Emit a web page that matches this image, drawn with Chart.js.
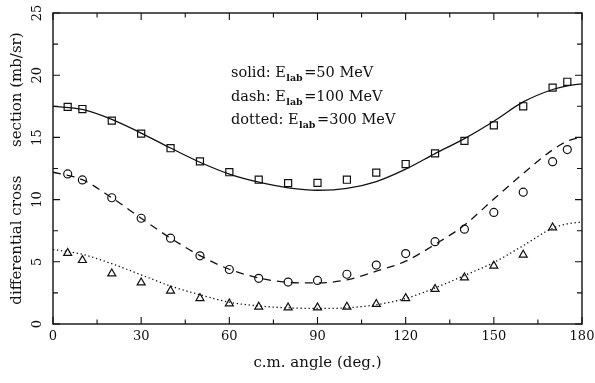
<!DOCTYPE html>
<html>
<head>
<meta charset="utf-8">
<script src="https://cdn.jsdelivr.net/npm/chart.js@4.4.1/dist/chart.umd.min.js"></script>
<style>
  html, body { margin: 0; padding: 0; background: #fff; }
  #wrap { position: relative; width: 595px; height: 383px; }
</style>
</head>
<body>
<div id="wrap"><canvas id="c" width="595" height="383"></canvas></div>
<script>
// ---- data ----
const curveAngles = [0, 10, 20, 30, 40, 50, 60, 70, 80, 90, 100, 110, 120, 130, 140, 150, 160, 170, 175, 180];
const curve50  = [17.5, 17.25, 16.45, 15.35, 14.15, 13.0, 12.05, 11.4, 10.95, 10.75, 10.9, 11.45, 12.45, 13.7, 14.9, 16.3, 17.85, 18.85, 19.15, 19.3];
const curve100 = [12.2, 11.6, 10.15, 8.5, 6.9, 5.5, 4.4, 3.7, 3.35, 3.3, 3.55, 4.25, 5.05, 6.4, 7.95, 10.05, 12.1, 14.0, 14.7, 15.05];
const curve300 = [6.0, 5.6, 4.85, 3.95, 3.05, 2.35, 1.75, 1.45, 1.3, 1.25, 1.3, 1.55, 2.05, 2.9, 3.9, 4.95, 6.3, 7.7, 8.05, 8.2];

const expAngles = [5, 10, 20, 30, 40, 50, 60, 70, 80, 90, 100, 110, 120, 130, 140, 150, 160, 170, 175];
const exp50  = [17.45, 17.28, 16.35, 15.3, 14.13, 13.07, 12.2, 11.6, 11.32, 11.34, 11.6, 12.17, 12.86, 13.72, 14.72, 15.97, 17.5, 19.0, 19.47];
const exp100 = [12.06, 11.58, 10.15, 8.5, 6.9, 5.48, 4.38, 3.67, 3.37, 3.5, 4.0, 4.74, 5.66, 6.62, 7.62, 8.97, 10.6, 13.05, 14.02];
const expAngles300 = [5, 10, 20, 30, 40, 50, 60, 70, 80, 90, 100, 110, 120, 130, 140, 150, 160, 170];
const exp300 = [5.7, 5.13, 4.05, 3.33, 2.66, 2.07, 1.64, 1.38, 1.32, 1.32, 1.38, 1.6, 2.07, 2.8, 3.73, 4.67, 5.56, 7.75];

const xTickValues = [0, 30, 60, 90, 120, 150, 180];
const yTickValues = [0, 5, 10, 15, 20, 25];
const legendRows = [
  { prefix: 'solid: ',  energy: '=50 MeV' },
  { prefix: 'dash: ',   energy: '=100 MeV' },
  { prefix: 'dotted: ', energy: '=300 MeV' }
];
const xTitle = 'c.m. angle (deg.)';
const yTitle = 'differential cross      section (mb/sr)';

// ---- build ----
const pts = (xs, ys) => xs.map((v, i) => ({ x: v, y: ys[i] }));
const FONT = '"DejaVu Serif", serif';
Chart.defaults.font.family = FONT;
Chart.defaults.color = '#111';

const lineDs = (data, dash) => ({
  data, showLine: true, pointRadius: 0, borderColor: '#111', borderWidth: 1.3,
  borderDash: dash, cubicInterpolationMode: 'monotone', fill: false
});
const markDs = (data, style, r) => ({
  data, showLine: false, pointStyle: style, pointRadius: r, pointHoverRadius: r,
  borderColor: '#111', backgroundColor: 'rgba(0,0,0,0)', pointBorderWidth: 1.2
});

const framePlugin = {
  id: 'frame',
  afterDatasetsDraw(chart) {
    const { ctx, chartArea: { left, right, top, bottom }, scales: { x, y } } = chart;
    ctx.save();
    ctx.strokeStyle = '#111';
    ctx.lineWidth = 1.4;
    ctx.strokeRect(left, top, right - left, bottom - top);
    ctx.lineWidth = 1.1;
    ctx.beginPath();
    x.ticks.forEach(t => {
      const px = x.getPixelForValue(t.value);
      const len = xTickValues.includes(t.value) ? 7 : 4.5;
      ctx.moveTo(px, bottom); ctx.lineTo(px, bottom - len);
      ctx.moveTo(px, top); ctx.lineTo(px, top + len);
    });
    y.ticks.forEach(t => {
      const py = y.getPixelForValue(t.value);
      const len = yTickValues.includes(t.value) ? 7 : 5;
      ctx.moveTo(left, py); ctx.lineTo(left + len, py);
      ctx.moveTo(right, py); ctx.lineTo(right - len, py);
    });
    ctx.stroke();
    ctx.restore();
  },
  afterDraw(chart) {
    const { ctx } = chart;
    ctx.save();
    ctx.fillStyle = '#111';
    ctx.textBaseline = 'alphabetic';
    const baselines = [77, 101, 124];
    legendRows.forEach((row, i) => {
      let x = 231;
      const b = baselines[i];
      ctx.font = '14.5px ' + FONT;
      ctx.fillText(row.prefix, x, b);
      x += ctx.measureText(row.prefix).width;
      ctx.fillText('E', x, b);
      x += ctx.measureText('E').width + 0.5;
      ctx.font = 'bold 9.5px ' + FONT;
      ctx.fillText('lab', x, b + 4);
      x += ctx.measureText('lab').width + 1.5;
      ctx.font = '14.5px ' + FONT;
      ctx.fillText(row.energy, x, b);
    });
    ctx.restore();
  }
};

new Chart(document.getElementById('c'), {
  type: 'scatter',
  data: {
    datasets: [
      lineDs(pts(curveAngles, curve50), []),
      lineDs(pts(curveAngles, curve100), [8, 6]),
      lineDs(pts(curveAngles, curve300), [1.3, 2.7]),
      markDs(pts(expAngles, exp50), 'rect', 5),
      markDs(pts(expAngles, exp100), 'circle', 4),
      markDs(pts(expAngles300, exp300), 'triangle', 4.6)
    ]
  },
  options: {
    responsive: false,
    animation: false,
    events: [],
    layout: { padding: { top: 13, right: 13, left: 0, bottom: 0 } },
    plugins: { legend: { display: false }, tooltip: { enabled: false } },
    scales: {
      x: {
        type: 'linear', min: 0, max: 180,
        grid: { display: false, drawTicks: false },
        border: { display: false },
        ticks: {
          stepSize: 15, padding: 5, maxRotation: 0, autoSkip: false,
          font: { size: 13, family: FONT }, color: '#111',
          callback: v => (xTickValues.includes(v) ? String(v) : '')
        },
        title: {
          display: true, text: xTitle, color: '#111',
          font: { size: 15, family: FONT }, padding: { top: 0, bottom: 11 }
        },
        afterFit(s) { s.height = 59; s.paddingLeft = 0; s.paddingRight = 0; }
      },
      y: {
        type: 'linear', min: 0, max: 25,
        grid: { display: false, drawTicks: false },
        border: { display: false },
        ticks: {
          stepSize: 2.5, padding: 7, minRotation: 90, maxRotation: 90,
          crossAlign: 'center', autoSkip: false,
          font: { size: 13, family: FONT }, color: '#111',
          callback: v => (yTickValues.includes(v) ? String(v) : '')
        },
        title: {
          display: true, text: yTitle, color: '#111',
          font: { size: 15, family: FONT }, padding: { top: 8.5, bottom: 0 }
        },
        afterFit(s) { s.width = 53; s.paddingTop = 0; s.paddingBottom = 0; }
      }
    }
  },
  plugins: [framePlugin]
});
</script>
</body>
</html>
